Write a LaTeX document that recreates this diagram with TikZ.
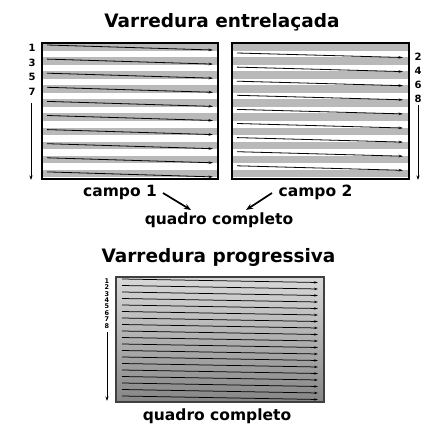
\documentclass[tikz,border=0pt]{standalone}
\usepackage{fontspec}
\setmainfont{DejaVu Sans}
\usetikzlibrary{arrows.meta}
\begin{document}
\begin{tikzpicture}[x=1pt,y=-1pt,
  title/.style={font=\fontsize{18.5}{20}\selectfont\bfseries, anchor=base, inner sep=0pt},
  lbl/.style={font=\fontsize{15.5}{17}\selectfont\bfseries, anchor=base, inner sep=0pt},
  num/.style={font=\fontsize{10}{11}\selectfont\bfseries, inner sep=0pt},
  tinynum/.style={font=\fontsize{6.5}{7}\selectfont\bfseries, inner sep=0pt},
  stripe/.style={fill=gray!55},
  framebox/.style={draw=black, line width=1.3pt},
  scan/.style={line width=0.8pt, -{Stealth[length=4.5pt,width=2.6pt]}},
  pscan/.style={line width=0.75pt, -{Stealth[length=4pt,width=2.4pt]}},
  vline/.style={line width=0.8pt, -{Stealth[length=4.5pt,width=3pt]}},
  merge/.style={line width=1.7pt, -{Stealth[length=7pt,width=5.5pt]}}]
\useasboundingbox (0,0) rectangle (448,444);

% ---------- interlaced ----------
\node[title] (t1) at (222,28) {Varredura entrelaçada};

% field 1
\foreach \k in {0,...,9}
  \fill[stripe] (42,43+14.1*\k) rectangle (218,43+14.1*\k+7.6);
\foreach \k in {0,...,9}
  \draw[scan] (47,45+14.1*\k) -- (213,50+14.1*\k);
\draw[framebox] (42,43) rectangle (218,179);

% field 2
\foreach \k in {0,...,9}
  \fill[stripe] (232,43+14.1*\k) rectangle (409,43+14.1*\k+7.6);
\foreach \k in {0,...,8}
  \draw[scan] (237,53+14.1*\k) -- (403,57.5+14.1*\k);
\draw[framebox] (232,43) rectangle (409,179);

% line numbers
\node[num] (n1) at (32,48) {1};
\node[num] (n3) at (32,63) {3};
\node[num] (n5) at (32,77) {5};
\node[num] (n7) at (32,92) {7};
\coordinate (lv1) at (31,103);
\coordinate (lv2) at (31,180);
\draw[vline] (lv1) -- (lv2);

\node[num] (n2) at (418,57) {2};
\node[num] (n4) at (418,71) {4};
\node[num] (n6) at (418,85) {6};
\node[num] (n8) at (418,99) {8};
\coordinate (rv1) at (418,105);
\coordinate (rv2) at (418,180);
\draw[vline] (rv1) -- (rv2);

\node[lbl] (c1) at (120,196.5) {campo 1};
\node[lbl] (c2) at (315.5,196.5) {campo 2};
\node[lbl] (q1) at (219,224) {quadro completo};
\coordinate (a1s) at (163,193);
\coordinate (a1e) at (191,210);
\coordinate (a2s) at (272,193);
\coordinate (a2e) at (246,210);
\draw[merge] (a1s) -- (a1e);
\draw[merge] (a2s) -- (a2e);

% ---------- progressive ----------
\node[title] (t2) at (218.5,262) {Varredura progressiva};
\shade[top color=gray!30, middle color=gray!60, bottom color=gray!95] (116,277) rectangle (324,402);
\foreach \k in {0,...,18}
  \draw[pscan] (122,279+6.5*\k) -- (318,282.5+6.5*\k);
\draw[draw=black!75, line width=1.2pt] (116,277) rectangle (324,402);

\foreach \k in {1,...,8}
  \node[tinynum] at (107,281+6.4*\k-6.4) {\k};
\coordinate (pv1) at (107,332);
\coordinate (pv2) at (107,401);
\draw[vline] (pv1) -- (pv2);

\node[lbl] (q2) at (217,420) {quadro completo};
\end{tikzpicture}
\end{document}
